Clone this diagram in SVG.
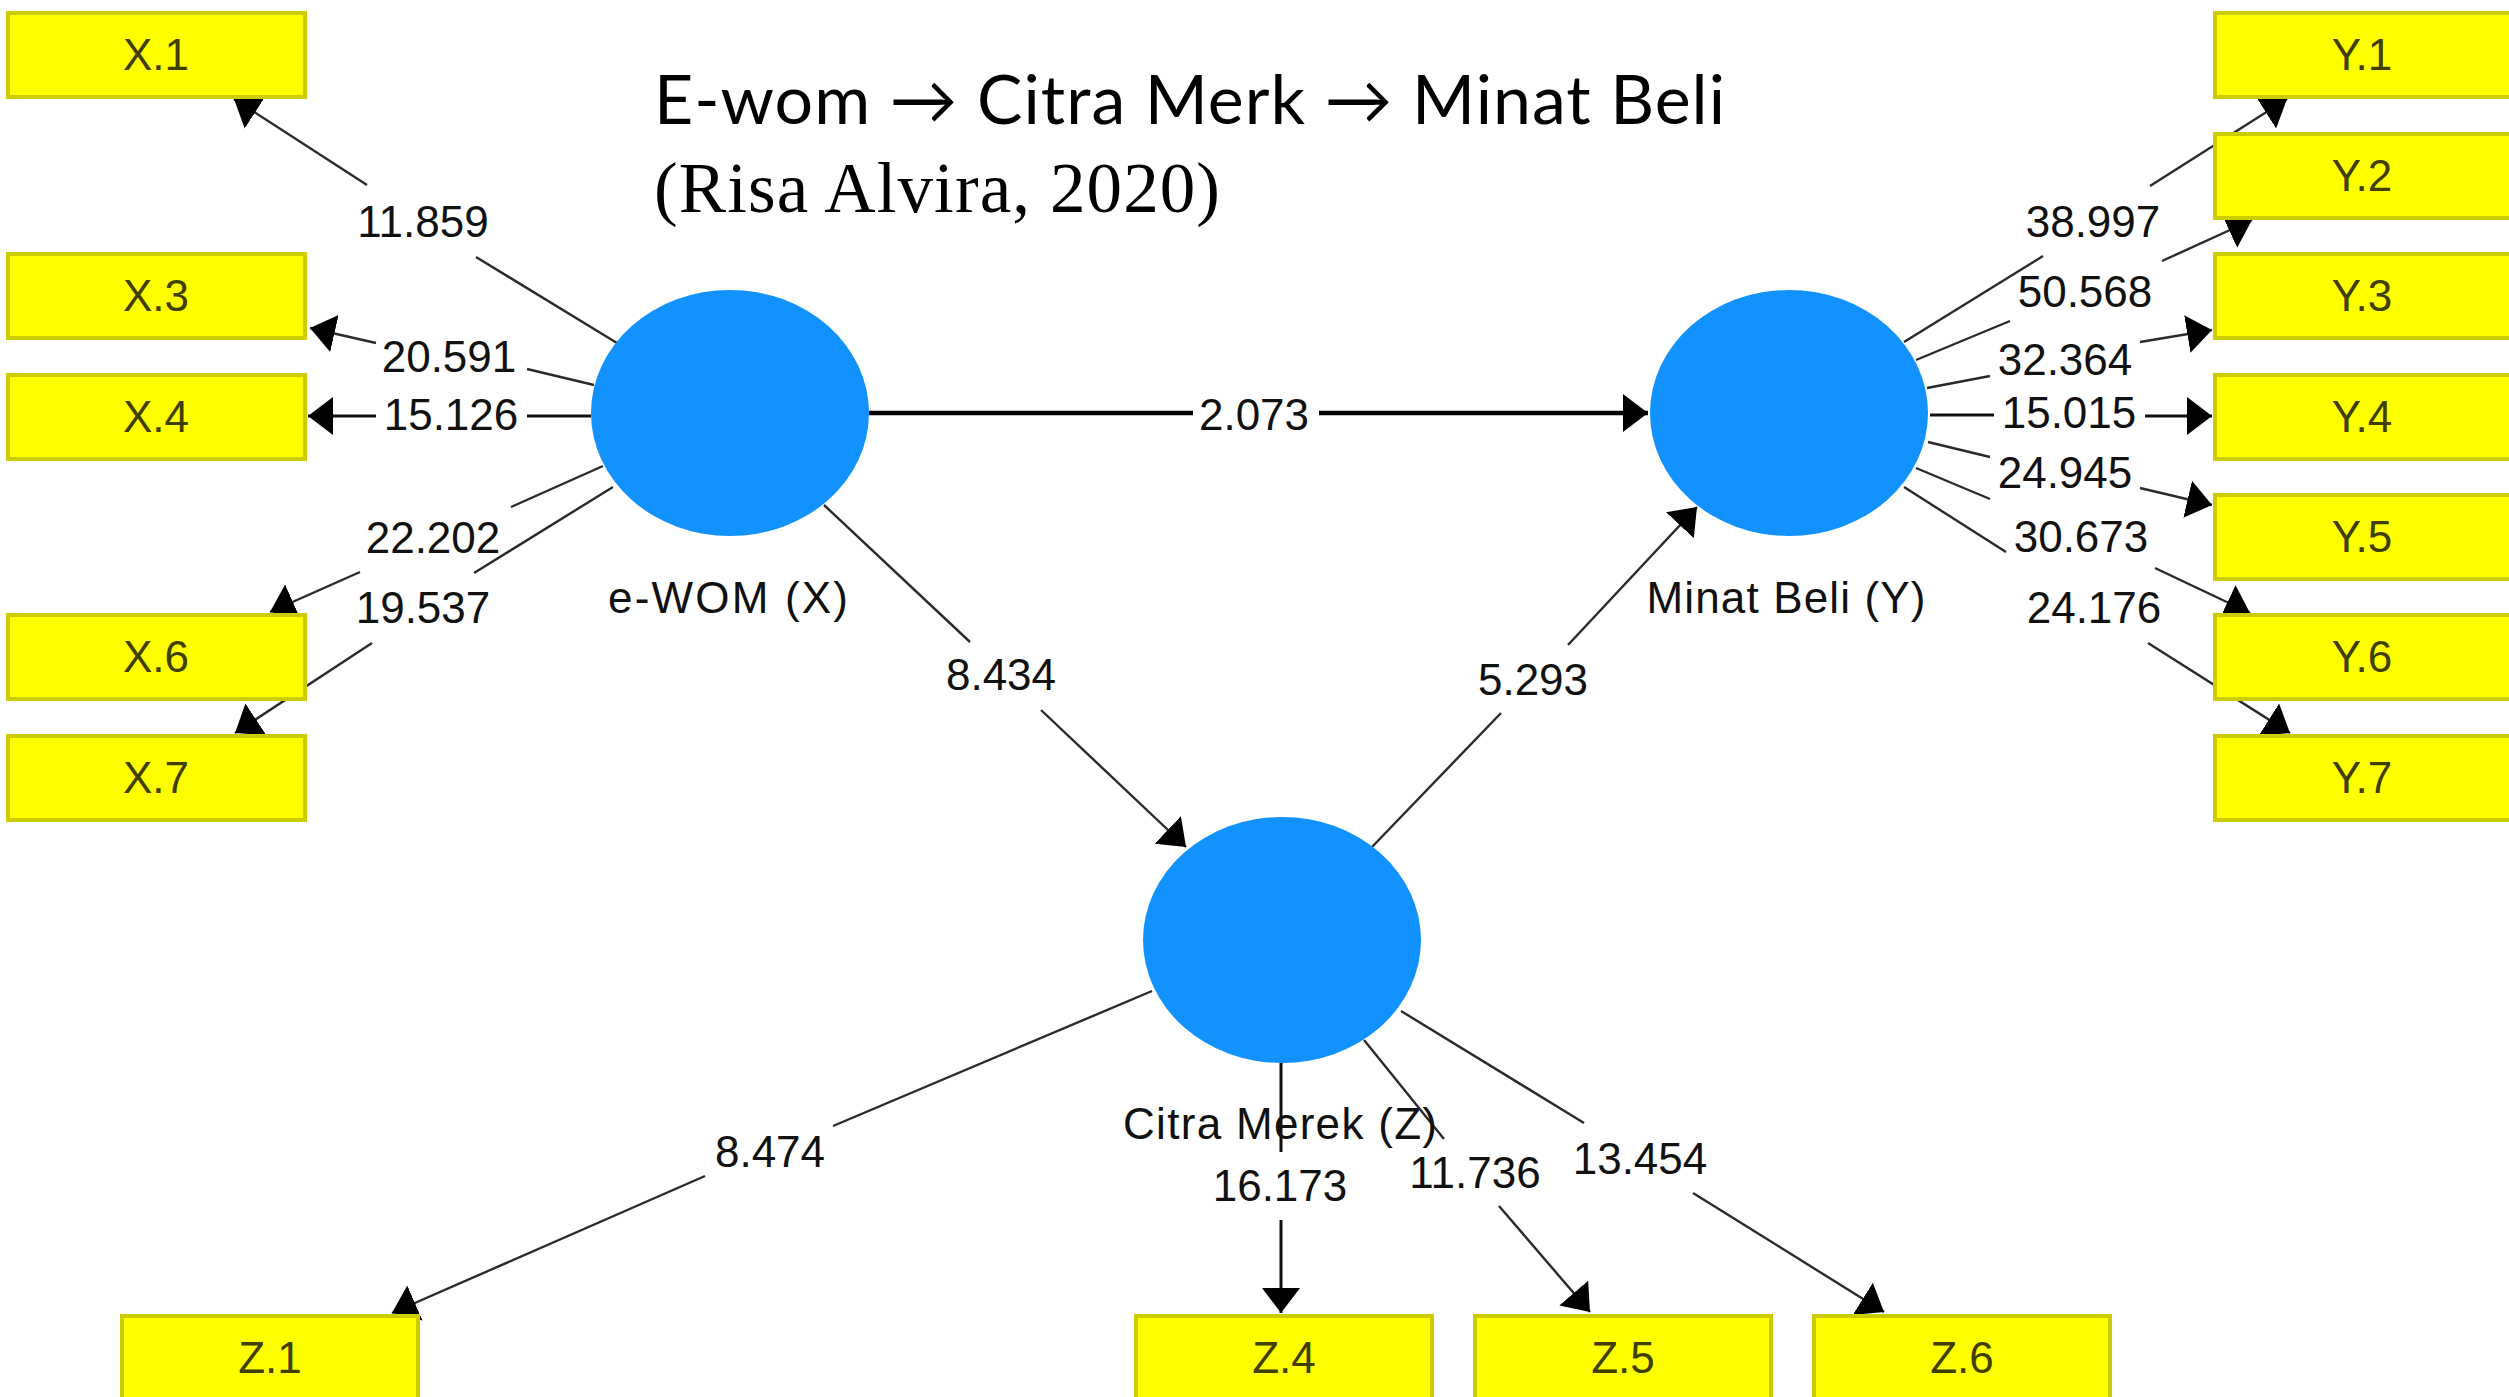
<svg xmlns="http://www.w3.org/2000/svg" width="2509" height="1397" viewBox="0 0 2509 1397">
<defs>
<style>
.ind rect{fill:#ffff00;stroke:#cccc00;stroke-width:4}
.ind text{font-family:"Liberation Sans",Arial,sans-serif;font-size:44px;fill:#3f3f00;text-anchor:middle}
.lv ellipse{fill:#1192ff}
.lv text{font-family:"Liberation Sans",Arial,sans-serif;font-size:44px;fill:#111;text-anchor:middle}
.c{stroke:#2a2a2a;stroke-width:2.4;fill:none}
.h{stroke:#111;stroke-width:3;fill:none}
.hb{stroke:#000;stroke-width:4.4;fill:none}
.a{marker-end:url(#ah)}
.el text{font-family:"Liberation Sans",Arial,sans-serif;font-size:44px;fill:#111;text-anchor:middle}
</style>
<marker id="ah" viewBox="0 -20 25 40" refX="25" refY="0" markerWidth="25" markerHeight="40" markerUnits="userSpaceOnUse" orient="auto">
<path d="M0,-19 L25,0 L0,19 Z" fill="#000"/>
</marker>
</defs>
<rect x="0" y="0" width="2509" height="1397" fill="#ffffff"/>

<g id="connectors">
<!-- eWOM -> X -->
<line class="c" x1="617" y1="343" x2="476" y2="257"/><line class="c a" x1="367" y1="185" x2="234" y2="99"/>
<line class="c" x1="594" y1="385" x2="527" y2="369"/><line class="c a" x1="376" y1="343" x2="310" y2="328"/>
<line class="h" x1="591" y1="416" x2="527" y2="416"/><line class="h a" x1="376" y1="416" x2="308" y2="416"/>
<line class="c" x1="603" y1="466" x2="511" y2="507"/><line class="c a" x1="360" y1="572" x2="270" y2="612"/>
<line class="c" x1="613" y1="487" x2="474" y2="573"/><line class="c a" x1="372" y1="643" x2="235" y2="733"/>
<!-- structural -->
<line class="hb" x1="869" y1="413" x2="1193" y2="413"/><line class="hb a" x1="1319" y1="413" x2="1648" y2="413"/>
<line class="c" x1="824" y1="505" x2="970" y2="642"/><line class="c a" x1="1041" y1="710" x2="1186" y2="847"/>
<line class="c" x1="1372" y1="847" x2="1501" y2="713"/><line class="c a" x1="1568" y1="645" x2="1697" y2="507"/>
<!-- Minat -> Y -->
<line class="c" x1="1904" y1="342" x2="2043" y2="256"/><line class="c a" x1="2150" y1="186" x2="2287" y2="99"/>
<line class="c" x1="1916" y1="360" x2="2010" y2="321"/><line class="c a" x1="2162" y1="261" x2="2252" y2="220"/>
<line class="c" x1="1927" y1="388" x2="1990" y2="376"/><line class="c a" x1="2140" y1="342" x2="2212" y2="330"/>
<line class="h" x1="1930" y1="415" x2="1994" y2="415"/><line class="h a" x1="2145" y1="416" x2="2212" y2="416"/>
<line class="c" x1="1928" y1="442" x2="1990" y2="457"/><line class="c a" x1="2140" y1="488" x2="2212" y2="505"/>
<line class="c" x1="1916" y1="468" x2="1990" y2="499"/><line class="c a" x1="2155" y1="568" x2="2250" y2="613"/>
<line class="c" x1="1904" y1="487" x2="2006" y2="552"/><line class="c a" x1="2148" y1="643" x2="2290" y2="733"/>
<!-- Citra -> Z -->
<line class="c" x1="1152" y1="991" x2="833" y2="1126"/><line class="c a" x1="705" y1="1176" x2="392" y2="1313"/>
<line class="h" x1="1281" y1="1063" x2="1281" y2="1152"/><line class="h a" x1="1281" y1="1220" x2="1281" y2="1313"/>
<line class="c" x1="1364" y1="1040" x2="1444" y2="1139"/><line class="c a" x1="1499" y1="1206" x2="1590" y2="1312"/>
<line class="c" x1="1401" y1="1011" x2="1584" y2="1123"/><line class="c a" x1="1693" y1="1193" x2="1884" y2="1312"/>
</g>

<g id="edge-labels" class="el">
<text x="423" y="237">11.859</text>
<text x="449" y="372">20.591</text>
<text x="451" y="430">15.126</text>
<text x="433" y="553">22.202</text>
<text x="423" y="623">19.537</text>
<text x="1254" y="430">2.073</text>
<text x="1001" y="690">8.434</text>
<text x="1533" y="695">5.293</text>
<text x="2093" y="237">38.997</text>
<text x="2085" y="307">50.568</text>
<text x="2065" y="375">32.364</text>
<text x="2069" y="428">15.015</text>
<text x="2065" y="488">24.945</text>
<text x="2081" y="552">30.673</text>
<text x="2094" y="623">24.176</text>
<text x="770" y="1167">8.474</text>
<text x="1280" y="1201">16.173</text>
<text x="1475" y="1188">11.736</text>
<text x="1640" y="1174">13.454</text>
</g>

<g id="node-eWOM" class="lv"><ellipse cx="730" cy="413" rx="139" ry="123"/><text x="728" y="613" textLength="240">e-WOM (X)</text></g>
<g id="node-MinatBeli" class="lv"><ellipse cx="1789" cy="413" rx="139" ry="123"/><text x="1786" y="613" textLength="279">Minat Beli (Y)</text></g>
<g id="node-CitraMerek" class="lv"><ellipse cx="1282" cy="940" rx="139" ry="123"/><text x="1280" y="1139" textLength="314">Citra Merek (Z)</text></g>

<g id="node-X1" class="ind"><rect x="8" y="13" width="297" height="84"/><text x="156" y="70">X.1</text></g>
<g id="node-X3" class="ind"><rect x="8" y="254" width="297" height="84"/><text x="156" y="311">X.3</text></g>
<g id="node-X4" class="ind"><rect x="8" y="375" width="297" height="84"/><text x="156" y="432">X.4</text></g>
<g id="node-X6" class="ind"><rect x="8" y="615" width="297" height="84"/><text x="156" y="672">X.6</text></g>
<g id="node-X7" class="ind"><rect x="8" y="736" width="297" height="84"/><text x="156" y="793">X.7</text></g>

<g id="node-Y1" class="ind"><rect x="2215" y="13" width="297" height="84"/><text x="2362" y="70">Y.1</text></g>
<g id="node-Y2" class="ind"><rect x="2215" y="134" width="297" height="84"/><text x="2362" y="191">Y.2</text></g>
<g id="node-Y3" class="ind"><rect x="2215" y="254" width="297" height="84"/><text x="2362" y="311">Y.3</text></g>
<g id="node-Y4" class="ind"><rect x="2215" y="375" width="297" height="84"/><text x="2362" y="432">Y.4</text></g>
<g id="node-Y5" class="ind"><rect x="2215" y="495" width="297" height="84"/><text x="2362" y="552">Y.5</text></g>
<g id="node-Y6" class="ind"><rect x="2215" y="615" width="297" height="84"/><text x="2362" y="672">Y.6</text></g>
<g id="node-Y7" class="ind"><rect x="2215" y="736" width="297" height="84"/><text x="2362" y="793">Y.7</text></g>

<g id="node-Z1" class="ind"><rect x="122" y="1316" width="296" height="84"/><text x="270" y="1373">Z.1</text></g>
<g id="node-Z4" class="ind"><rect x="1136" y="1316" width="296" height="84"/><text x="1284" y="1373">Z.4</text></g>
<g id="node-Z5" class="ind"><rect x="1475" y="1316" width="296" height="84"/><text x="1623" y="1373">Z.5</text></g>
<g id="node-Z6" class="ind"><rect x="1814" y="1316" width="296" height="84"/><text x="1962" y="1373">Z.6</text></g>

<g id="title">
<text x="654" y="124" font-family="Lato, 'DejaVu Sans', sans-serif" font-size="68" fill="#000" textLength="1071">E-wom → Citra Merk → Minat Beli</text>
<text x="654" y="212" font-family="'Liberation Serif', 'Times New Roman', serif" font-size="71" fill="#000" textLength="566">(Risa Alvira, 2020)</text>
</g>
</svg>
